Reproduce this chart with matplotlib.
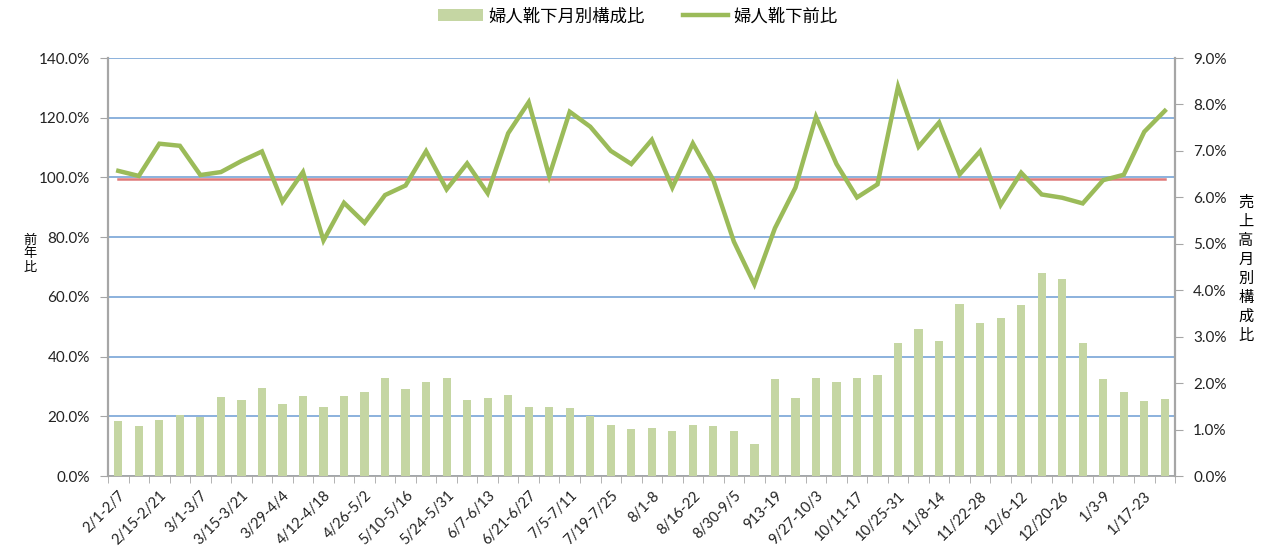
import matplotlib
matplotlib.use('Agg')
import matplotlib.pyplot as plt
from matplotlib.ticker import FuncFormatter, MultipleLocator
import numpy as np

# week labels shown on the axis (every other week)
week_labels = ['2/1-2/7', '2/15-2/21', '3/1-3/7', '3/15-3/21', '3/29-4/4',
               '4/12-4/18', '4/26-5/2', '5/10-5/16', '5/24-5/31', '6/7-6/13',
               '6/21-6/27', '7/5-7/11', '7/19-7/25', '8/1-8', '8/16-22',
               '8/30-9/5', '913-19', '9/27-10/3', '10/11-17', '10/25-31',
               '11/8-14', '11/22-28', '12/6-12', '12/20-26', '1/3-9', '1/17-23']

# 婦人靴下 月別構成比 (%), right axis
share = [1.18, 1.08, 1.21, 1.31, 1.28, 1.71, 1.63, 1.89, 1.55, 1.73,
         1.49, 1.73, 1.81, 2.11, 1.87, 2.03, 2.10, 1.63, 1.67, 1.75,
         1.49, 1.49, 1.47, 1.29, 1.10, 1.02, 1.03, 0.97, 1.10, 1.08,
         0.97, 0.68, 2.08, 1.68, 2.11, 2.03, 2.10, 2.17, 2.86, 3.16,
         2.90, 3.71, 3.29, 3.41, 3.68, 4.37, 4.24, 2.86, 2.08, 1.81,
         1.61, 1.65]

# 婦人靴下 前年比 (%), left axis
yoy = [102.2, 100.5, 111.3, 110.6, 100.8, 101.8, 105.5, 108.7, 91.9, 101.8,
       78.9, 91.5, 84.8, 94.1, 97.3, 108.8, 96.0, 104.7, 94.7, 114.8,
       125.2, 100.5, 122.0, 117.0, 108.9, 104.5, 112.6, 96.6, 111.4, 99.1,
       78.5, 64.2, 83.0, 96.6, 120.3, 104.5, 93.3, 97.7, 130.4, 110.3,
       118.4, 101.0, 108.8, 90.8, 101.6, 94.3, 93.2, 91.3, 99.1, 100.9,
       115.3, 122.3]

baseline = 99.4  # 前年比 100% reference line

LINE_C = '#9BBB59'
BAR_C = '#C5D6A3'
GRID_C = '#6C9DD3'
AXIS_C = '#A6A6A6'
NUM_FONT = ['Lato', 'Noto Sans CJK JP']
JP_FONT = ['Noto Sans CJK JP', 'DejaVu Sans']

x = np.arange(len(share))

fig = plt.figure(figsize=(12.65, 5.6), dpi=100)
ax = fig.add_axes([0.0854, 0.15, 0.8435, 0.7464])
ax2 = ax.twinx()

# gridlines on the left-scale axes (drawn at the bottom)
ax.set_ylim(0, 140)
ax.yaxis.set_major_locator(MultipleLocator(20))
ax.grid(axis='y', color=GRID_C, linewidth=1.1)
ax.set_axisbelow(True)

# bars on right scale
bars = ax2.bar(x, share, width=0.4, color=BAR_C, zorder=2)
ax2.set_ylim(0, 9)
ax2.yaxis.set_major_locator(MultipleLocator(1))

# line and reference drawn above the bars, in left-axis units
ax2.plot(x, [baseline] * len(x), color='#E07A7A', linewidth=1.8,
         transform=ax.transData, zorder=3)
line, = ax2.plot(x, yoy, color=LINE_C, linewidth=3.2,
                 transform=ax.transData, zorder=4, solid_joinstyle='miter')
ax2.set_ylim(0, 9)
ax.set_xlim(-0.5, len(x) - 0.5)

pct = FuncFormatter(lambda v, p: f'{v:.1f}%')
ax.yaxis.set_major_formatter(pct)
ax2.yaxis.set_major_formatter(pct)

for a in (ax, ax2):
    for s in a.spines.values():
        s.set_visible(False)
ax.spines['left'].set_visible(True)
ax.spines['left'].set_color(AXIS_C)
ax.spines['left'].set_linewidth(1.6)
ax.spines['bottom'].set_visible(True)
ax.spines['bottom'].set_color(AXIS_C)
ax.spines['bottom'].set_linewidth(1.3)
ax2.spines['right'].set_visible(True)
ax2.spines['right'].set_color(AXIS_C)
ax2.spines['right'].set_linewidth(1.6)

ax.tick_params(axis='y', direction='out', length=6, color=AXIS_C, pad=7)
ax2.tick_params(axis='y', direction='out', length=6, color=AXIS_C, pad=7)
for lab in ax.get_yticklabels() + ax2.get_yticklabels():
    lab.set_fontfamily(NUM_FONT)
    lab.set_fontsize(11)
    lab.set_color('#222222')

ax.set_xticks(x[::2])
ax.set_xticklabels(week_labels, rotation=45, ha='right', va='top',
                   rotation_mode='anchor', fontfamily=NUM_FONT,
                   fontsize=10.5, color='#222222')
ax.tick_params(axis='x', which='major', length=0, pad=9)
ax.set_xticks(np.arange(-0.5, len(x), 1), minor=True)
ax.tick_params(axis='x', which='minor', direction='out', length=5,
               color=AXIS_C)

fig.text(0.024, 1 - 254 / 560, '\n'.join('前年比'), ha='center', va='center',
         fontsize=9.5, fontfamily=JP_FONT, linespacing=1.05)
fig.text(1246 / 1265, 1 - 269 / 560, '\n'.join('売上高月別構成比'),
         ha='center', va='center', fontsize=11, fontfamily=JP_FONT,
         linespacing=1.15)

fig.legend([bars, line], ['婦人靴下月別構成比', '婦人靴下前比'],
           loc='center', bbox_to_anchor=(0.504, 0.971), ncol=2,
           frameon=False, prop={'family': JP_FONT, 'size': 12.5},
           handlelength=2.6, handletextpad=0.3, columnspacing=2.2)

fig.savefig('out.png', dpi=100)
